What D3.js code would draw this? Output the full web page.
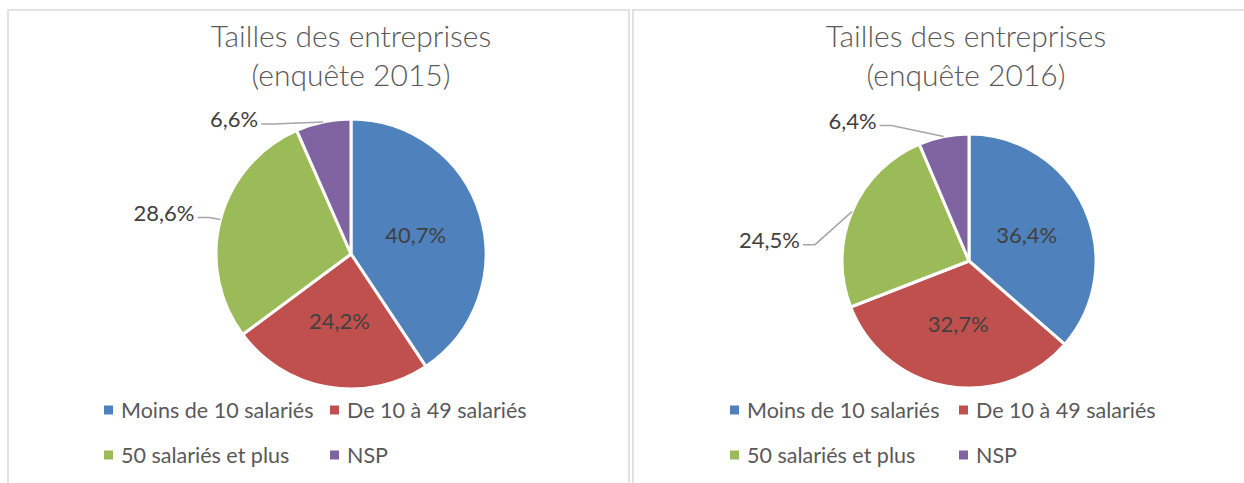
<!DOCTYPE html>
<html>
<head>
<meta charset="utf-8">
<script src="https://cdn.jsdelivr.net/npm/d3@7"></script>
<style>
  html, body { margin: 0; padding: 0; background: #fff; }
  svg { display: block; }
</style>
</head>
<body>
<div id="chartContainer"></div>
<script>
// Données
const categories = ["Moins de 10 salariés", "De 10 à 49 salariés", "50 salariés et plus", "NSP"];
const colors = ["#4F81BD", "#C0504D", "#9BBB59", "#8064A2"];
const values2015 = [40.7, 24.2, 28.6, 6.6];
const values2016 = [36.4, 32.7, 24.5, 6.4];
const titleLine1 = "Tailles des entreprises";
const titleLines2 = ["(enquête 2015)", "(enquête 2016)"];

const width = 1244;
const height = 483;

const svg = d3.select("#chartContainer")
    .append("svg")
    .attr("width", width)
    .attr("height", height);

// Mise en page des deux panneaux
const panels = [
    { x: 8, w: 621, cx: 351, cy: 254, r: 135, titleX: 351, legendX: 104, legendCol: 226,
      values: values2015, sub: titleLines2[0],
      offsets: { 2: [-26, -7], 3: [-65, -3] } },
    { x: 633, w: 640, cx: 969, cy: 261, r: 127, titleX: 966, legendX: 730, legendCol: 229,
      values: values2016, sub: titleLines2[1],
      offsets: { 2: [-52, 28], 3: [-67, -16] } }
];

const fmt = v => v.toFixed(1).replace(".", ",") + "%";

panels.forEach(p => {
    const g = svg.append("g");

    // Cadre
    g.append("rect")
        .attr("x", p.x)
        .attr("y", 10)
        .attr("width", p.w)
        .attr("height", height + 20)
        .attr("fill", "#fff")
        .attr("stroke", "#D9D9D9")
        .attr("stroke-width", 1.5);

    // Titre
    const title = g.append("text")
        .attr("text-anchor", "middle")
        .style("font-family", "Lato, 'Open Sans', sans-serif")
        .style("font-weight", "300")
        .style("font-size", "30px")
        .style("fill", "#595959");
    title.append("tspan").attr("x", p.titleX).attr("y", 47).text(titleLine1);
    title.append("tspan").attr("x", p.titleX).attr("y", 86).text(p.sub);

    const pie = d3.pie().sort(null).value(d => d);
    const arcs = pie(p.values);
    const arc = d3.arc().innerRadius(0).outerRadius(p.r);
    const edgeArc = d3.arc().innerRadius(p.r).outerRadius(p.r);
    const innerArc = d3.arc().innerRadius(p.r * 0.5).outerRadius(p.r * 0.5);

    const pg = g.append("g").attr("transform", `translate(${p.cx},${p.cy})`);

    pg.selectAll("path.slice")
        .data(arcs)
        .enter().append("path")
        .attr("class", "slice")
        .attr("d", arc)
        .attr("fill", (d, i) => colors[i])
        .attr("stroke", "#fff")
        .attr("stroke-width", 3)
        .attr("stroke-linejoin", "round");

    // Étiquettes
    arcs.forEach((d, i) => {
        const off = p.offsets[i];
        if (!off) {
            const [lx, ly] = innerArc.centroid(d);
            pg.append("text")
                .attr("x", lx)
                .attr("y", ly)
                .attr("text-anchor", "middle")
                .attr("dominant-baseline", "central")
                .style("font-family", "Lato, 'Open Sans', sans-serif")
                .style("font-size", "22px")
                .style("fill", "#404040")
                .text(fmt(p.values[i]));
            return;
        }
        const [ex, ey] = edgeArc.centroid(d);
        const tx = ex + off[0];
        const ty = ey + off[1];
        pg.append("polyline")
            .attr("points", [[ex, ey], [tx + 15, ty + 5], [tx + 3, ty + 5]].map(q => q.join(",")).join(" "))
            .attr("fill", "none")
            .attr("stroke", "#A6A6A6")
            .attr("stroke-width", 1.5);
        pg.append("text")
            .attr("x", tx)
            .attr("y", ty)
            .attr("text-anchor", "end")
            .attr("dominant-baseline", "central")
            .style("font-family", "Lato, 'Open Sans', sans-serif")
            .style("font-size", "22px")
            .style("fill", "#404040")
            .text(fmt(p.values[i]));
    });

    // Légende
    categories.forEach((c, i) => {
        const lx = p.legendX + (i % 2) * p.legendCol;
        const ly = 410 + Math.floor(i / 2) * 45;
        g.append("rect")
            .attr("x", lx)
            .attr("y", ly - 4.5)
            .attr("width", 9)
            .attr("height", 9)
            .attr("fill", colors[i]);
        g.append("text")
            .attr("x", lx + 17)
            .attr("y", ly)
            .attr("dominant-baseline", "central")
            .style("font-family", "Lato, 'Open Sans', sans-serif")
            .style("font-size", "21.5px")
            .style("fill", "#595959")
            .text(c);
    });
});
</script>
</body>
</html>
